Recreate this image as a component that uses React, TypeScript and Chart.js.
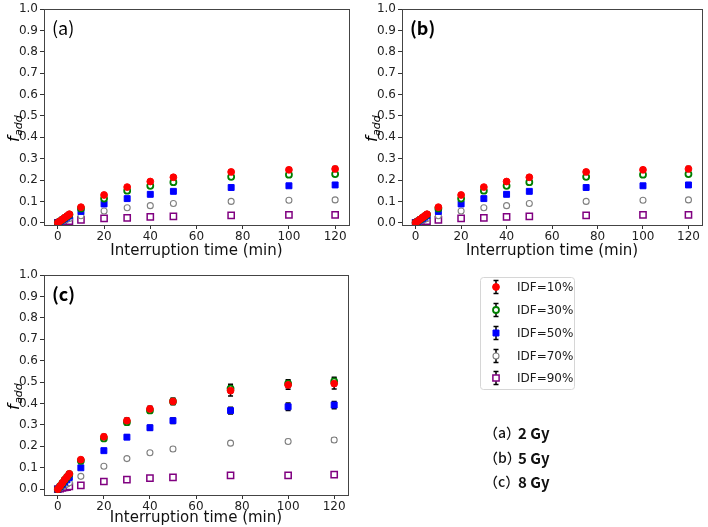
import React, { useEffect, useRef } from 'react';
import { Chart, registerables } from 'chart.js';
Chart.register(...registerables);

const times = [0, 1, 2, 3, 4, 5, 10, 20, 30, 40, 50, 75, 100, 120];
const xTicks = [0, 20, 40, 60, 80, 100, 120];
const yTicks = [0, 0.1, 0.2, 0.3, 0.4, 0.5, 0.6, 0.7, 0.8, 0.9, 1.0];
const seriesLabels = ['IDF=10%', 'IDF=30%', 'IDF=50%', 'IDF=70%', 'IDF=90%'];
const doseTags = ['（a）', '（b）', '（c）'];
const doseValues = ['2 Gy', '5 Gy', '8 Gy'];

// panel (a) 2 Gy
const a_idf10 = [0, 0.008, 0.016, 0.024, 0.032, 0.040, 0.073, 0.130, 0.167, 0.193, 0.213, 0.238, 0.248, 0.252];
const a_idf30 = [0, 0.008, 0.015, 0.023, 0.030, 0.038, 0.067, 0.113, 0.150, 0.173, 0.190, 0.215, 0.225, 0.228];
const a_idf50 = [0, 0.006, 0.013, 0.019, 0.026, 0.033, 0.053, 0.088, 0.113, 0.133, 0.147, 0.165, 0.173, 0.177];
const a_idf70 = [0, 0.004, 0.008, 0.012, 0.016, 0.020, 0.033, 0.055, 0.070, 0.080, 0.090, 0.100, 0.105, 0.107];
const a_idf90 = [0, 0.002, 0.004, 0.005, 0.007, 0.008, 0.013, 0.020, 0.023, 0.027, 0.030, 0.034, 0.037, 0.037];
const a_err10 = [0, 0.001, 0.001, 0.002, 0.002, 0.003, 0.004, 0.005, 0.006, 0.007, 0.008, 0.009, 0.010, 0.011];
const a_err30 = [0, 0.001, 0.001, 0.002, 0.002, 0.003, 0.004, 0.005, 0.006, 0.006, 0.007, 0.008, 0.009, 0.010];
const a_err50 = [0, 0.001, 0.001, 0.001, 0.002, 0.002, 0.003, 0.004, 0.005, 0.005, 0.006, 0.008, 0.008, 0.009];
const a_err70 = [0, 0.001, 0.001, 0.001, 0.001, 0.002, 0.002, 0.003, 0.004, 0.004, 0.005, 0.005, 0.006, 0.006];
const a_err90 = [0, 0.001, 0.001, 0.001, 0.001, 0.001, 0.001, 0.002, 0.002, 0.002, 0.002, 0.003, 0.003, 0.003];

// panel (b) 5 Gy
const b_idf10 = [0, 0.008, 0.016, 0.024, 0.032, 0.040, 0.073, 0.130, 0.167, 0.193, 0.213, 0.238, 0.248, 0.252];
const b_idf30 = [0, 0.008, 0.015, 0.023, 0.030, 0.038, 0.067, 0.113, 0.150, 0.173, 0.190, 0.215, 0.225, 0.228];
const b_idf50 = [0, 0.006, 0.013, 0.019, 0.026, 0.033, 0.053, 0.088, 0.113, 0.133, 0.147, 0.165, 0.173, 0.177];
const b_idf70 = [0, 0.004, 0.008, 0.012, 0.016, 0.020, 0.033, 0.055, 0.070, 0.080, 0.090, 0.100, 0.105, 0.107];
const b_idf90 = [0, 0.002, 0.004, 0.005, 0.007, 0.008, 0.013, 0.020, 0.023, 0.027, 0.030, 0.034, 0.037, 0.037];
const b_err10 = [0, 0.001, 0.001, 0.002, 0.002, 0.003, 0.004, 0.005, 0.006, 0.007, 0.008, 0.009, 0.010, 0.011];
const b_err30 = [0, 0.001, 0.001, 0.002, 0.002, 0.003, 0.004, 0.005, 0.006, 0.006, 0.007, 0.008, 0.009, 0.010];
const b_err50 = [0, 0.001, 0.001, 0.001, 0.002, 0.002, 0.003, 0.004, 0.005, 0.005, 0.006, 0.008, 0.008, 0.009];
const b_err70 = [0, 0.001, 0.001, 0.001, 0.001, 0.002, 0.002, 0.003, 0.004, 0.004, 0.005, 0.005, 0.006, 0.006];
const b_err90 = [0, 0.001, 0.001, 0.001, 0.001, 0.001, 0.001, 0.002, 0.002, 0.002, 0.002, 0.003, 0.003, 0.003];

// panel (c) 8 Gy
const c_idf10 = [0, 0.015, 0.030, 0.045, 0.058, 0.072, 0.138, 0.245, 0.320, 0.375, 0.410, 0.460, 0.487, 0.493];
const c_idf30 = [0, 0.014, 0.028, 0.043, 0.056, 0.070, 0.133, 0.237, 0.313, 0.368, 0.410, 0.470, 0.493, 0.503];
const c_idf50 = [0, 0.011, 0.022, 0.033, 0.044, 0.055, 0.100, 0.180, 0.243, 0.287, 0.320, 0.367, 0.385, 0.393];
const c_idf70 = [0, 0.006, 0.012, 0.018, 0.024, 0.030, 0.060, 0.107, 0.143, 0.170, 0.188, 0.215, 0.223, 0.230];
const c_idf90 = [0, 0.003, 0.006, 0.008, 0.010, 0.013, 0.018, 0.036, 0.045, 0.052, 0.055, 0.065, 0.065, 0.068];
const c_err10 = [0, 0.002, 0.003, 0.004, 0.005, 0.006, 0.008, 0.010, 0.012, 0.012, 0.015, 0.025, 0.020, 0.025];
const c_err30 = [0, 0.002, 0.003, 0.004, 0.005, 0.006, 0.008, 0.010, 0.012, 0.012, 0.014, 0.020, 0.018, 0.020];
const c_err50 = [0, 0.001, 0.002, 0.003, 0.004, 0.005, 0.006, 0.008, 0.010, 0.012, 0.013, 0.016, 0.018, 0.017];
const c_err70 = [0, 0.001, 0.001, 0.002, 0.002, 0.003, 0.004, 0.005, 0.006, 0.007, 0.008, 0.009, 0.009, 0.010];
const c_err90 = [0, 0.001, 0.001, 0.001, 0.001, 0.001, 0.002, 0.002, 0.003, 0.003, 0.003, 0.004, 0.004, 0.004];

type Style = { color: string; fill: string; pointStyle: string; radius: number; border: number };
const styles: Style[] = [
  { color: '#ff0000', fill: '#ff0000', pointStyle: 'circle', radius: 3.4, border: 1 },
  { color: '#008000', fill: '#ffffff', pointStyle: 'circle', radius: 3, border: 1.8 },
  { color: '#0000ff', fill: '#0000ff', pointStyle: 'rect', radius: 4.2, border: 1 },
  { color: '#808080', fill: '#ffffff', pointStyle: 'circle', radius: 3, border: 1.1 },
  { color: '#800080', fill: '#ffffff', pointStyle: 'rect', radius: 4.4, border: 1.5 },
];

const FONT = '"DejaVu Sans", sans-serif';

function drawMarker(ctx: CanvasRenderingContext2D, s: Style, x: number, y: number) {
  ctx.save();
  ctx.lineWidth = s.border;
  ctx.strokeStyle = s.color;
  ctx.fillStyle = s.fill;
  ctx.beginPath();
  if (s.pointStyle === 'circle') {
    ctx.arc(x, y, s.radius, 0, Math.PI * 2);
  } else {
    const h = s.radius * Math.SQRT1_2;
    ctx.rect(x - h, y - h, 2 * h, 2 * h);
  }
  ctx.fill();
  ctx.stroke();
  ctx.restore();
}

function drawErrBar(ctx: CanvasRenderingContext2D, x: number, y1: number, y2: number) {
  ctx.save();
  ctx.strokeStyle = '#000';
  ctx.lineWidth = 1.5;
  ctx.beginPath();
  ctx.moveTo(x, y1);
  ctx.lineTo(x, y2);
  ctx.moveTo(x - 2.5, y1);
  ctx.lineTo(x + 2.5, y1);
  ctx.moveTo(x - 2.5, y2);
  ctx.lineTo(x + 2.5, y2);
  ctx.stroke();
  ctx.restore();
}

const errorBarPlugin = {
  id: 'errorBars',
  beforeDatasetsDraw(chart: any) {
    const ctx = chart.ctx;
    const xs = chart.scales.x;
    const ys = chart.scales.y;
    chart.data.datasets.forEach((ds: any) => {
      const errs: number[] = ds.errors || [];
      ds.data.forEach((p: any, i: number) => {
        const e = errs[i] || 0;
        if (e <= 0) return;
        const x = xs.getPixelForValue(p.x);
        drawErrBar(ctx, x, ys.getPixelForValue(p.y + e), ys.getPixelForValue(p.y - e));
      });
    });
  },
};

const framePlugin = {
  id: 'frame',
  afterDatasetsDraw(chart: any, _a: any, opts: any) {
    const { ctx, chartArea } = chart;
    ctx.save();
    ctx.strokeStyle = '#444';
    ctx.lineWidth = 1;
    ctx.strokeRect(Math.round(chartArea.left) + 0.5, Math.round(chartArea.top) + 0.5,
      Math.round(chartArea.right - chartArea.left), Math.round(chartArea.bottom - chartArea.top));
    // panel label
    ctx.fillStyle = '#000';
    ctx.font = `${opts.bold ? '700' : '400'} 18px "Noto Sans CJK JP", sans-serif`;
    ctx.textBaseline = 'middle';
    ctx.textAlign = 'left';
    ctx.fillText(opts.label, chartArea.left + 8, chartArea.top + 19);
    // y axis label f_add
    ctx.translate(opts.ylabX, (chartArea.top + chartArea.bottom) / 2 + 25);
    ctx.rotate(-Math.PI / 2);
    ctx.textBaseline = 'alphabetic';
    ctx.font = `oblique 16px ${FONT}`;
    ctx.fillText('f', 0, 0);
    const fw = ctx.measureText('f').width;
    ctx.font = `oblique 11px ${FONT}`;
    ctx.fillText('add', fw + 0.5, 3);
    ctx.restore();
  },
};

const sideTextPlugin = {
  id: 'sideText',
  afterDraw(chart: any, _a: any, opts: any) {
    if (!opts.enabled) return;
    const ctx = chart.ctx;
    ctx.save();
    // legend box
    const bx = 480.5, by = 17.5, bw = 94, bh = 112, r = 3;
    ctx.strokeStyle = '#d6d6d6';
    ctx.fillStyle = '#fff';
    ctx.lineWidth = 1;
    ctx.beginPath();
    ctx.moveTo(bx + r, by);
    ctx.lineTo(bx + bw - r, by);
    ctx.quadraticCurveTo(bx + bw, by, bx + bw, by + r);
    ctx.lineTo(bx + bw, by + bh - r);
    ctx.quadraticCurveTo(bx + bw, by + bh, bx + bw - r, by + bh);
    ctx.lineTo(bx + r, by + bh);
    ctx.quadraticCurveTo(bx, by + bh, bx, by + bh - r);
    ctx.lineTo(bx, by + r);
    ctx.quadraticCurveTo(bx, by, bx + r, by);
    ctx.fill();
    ctx.stroke();
    const rowsY = [27, 50, 73, 96, 118];
    seriesLabels.forEach((lab, i) => {
      const y = rowsY[i];
      drawErrBar(ctx, 496, y - 6.5, y + 6.5);
      drawMarker(ctx, styles[i], 496, y);
      ctx.fillStyle = '#1a1a1a';
      ctx.font = `12px ${FONT}`;
      ctx.textBaseline = 'middle';
      ctx.textAlign = 'left';
      ctx.fillText(lab, 517, y + 1);
    });
    // dose labels
    const doseY = [173, 198, 222];
    ctx.fillStyle = '#111';
    ctx.textBaseline = 'middle';
    doseTags.forEach((t, i) => {
      ctx.font = `500 14px "Noto Sans CJK JP", sans-serif`;
      ctx.fillText(t, 484, doseY[i]);
      ctx.font = `600 15px "Noto Sans CJK JP", sans-serif`;
      ctx.fillText(doseValues[i], 518, doseY[i]);
    });
    ctx.restore();
  },
};

type PanelProps = {
  left: number; top: number; width: number; height: number;
  padding: { left: number; right: number; top: number; bottom: number };
  xAxisH: number; yMin: number; label: string; bold: boolean; ylabX: number;
  series: number[][]; errors: number[][]; side?: boolean;
};

function Panel(p: PanelProps) {
  const ref = useRef<HTMLCanvasElement | null>(null);
  useEffect(() => {
    if (!ref.current) return;
    const datasets = p.series.map((vals, i) => ({
      label: seriesLabels[i],
      data: times.map((t, j) => ({ x: t, y: vals[j] })),
      errors: p.errors[i],
      showLine: false,
      pointStyle: styles[i].pointStyle,
      pointRadius: styles[i].radius,
      pointBorderWidth: styles[i].border,
      pointBorderColor: styles[i].color,
      pointBackgroundColor: styles[i].fill,
      borderColor: styles[i].color,
      backgroundColor: styles[i].fill,
    }));
    const chart = new Chart(ref.current, {
      type: 'scatter',
      data: { datasets: datasets as any },
      plugins: [errorBarPlugin, framePlugin, sideTextPlugin],
      options: {
        animation: false,
        responsive: false,
        devicePixelRatio: 1,
        layout: { padding: p.padding },
        plugins: {
          legend: { display: false },
          tooltip: { enabled: false },
          frame: { label: p.label, bold: p.bold, ylabX: p.ylabX },
          sideText: { enabled: !!p.side },
        } as any,
        scales: {
          x: {
            type: 'linear',
            min: -6,
            max: 126,
            afterBuildTicks: (s: any) => { s.ticks = xTicks.map((v) => ({ value: v })); },
            afterFit: (s: any) => { s.height = p.xAxisH; },
            grid: { drawOnChartArea: false, tickLength: 4, color: '#333', drawTicks: true },
            border: { display: false },
            ticks: { color: '#222', font: { family: FONT, size: 12 }, padding: 1, maxRotation: 0 },
            title: {
              display: true,
              text: 'Interruption time (min)',
              color: '#111',
              font: { family: FONT, size: 15 },
              padding: { top: 0, bottom: 0 },
            },
          },
          y: {
            type: 'linear',
            min: p.yMin,
            max: 1.0,
            afterBuildTicks: (s: any) => { s.ticks = yTicks.map((v) => ({ value: v })); },
            afterFit: (s: any) => { s.width = 44; },
            grid: { drawOnChartArea: false, tickLength: 4, color: '#333' },
            border: { display: false },
            ticks: {
              color: '#222',
              font: { family: FONT, size: 12 },
              padding: 2,
              callback: (v: any) => Number(v).toFixed(1),
            },
          },
        },
      },
    });
    return () => chart.destroy();
  }, []);
  return (
    <canvas
      ref={ref}
      width={p.width}
      height={p.height}
      style={{ position: 'absolute', left: p.left, top: p.top, width: p.width, height: p.height }}
    />
  );
}

export default function App() {
  return (
    <div style={{ position: 'absolute', left: 0, top: 0, width: 708, height: 527, background: '#fff' }}>
      <Panel
        left={0} top={0} width={358} height={260}
        padding={{ left: 0, right: 9, top: 5, bottom: 0 }}
        xAxisH={35} yMin={-0.0106} label="(a)" bold={false} ylabX={19}
        series={[a_idf10, a_idf30, a_idf50, a_idf70, a_idf90]}
        errors={[a_err10, a_err30, a_err50, a_err70, a_err90]}
      />
      <Panel
        left={358} top={0} width={350} height={260}
        padding={{ left: 0, right: 1, top: 5, bottom: 0 }}
        xAxisH={35} yMin={-0.0106} label="(b)" bold={true} ylabX={19}
        series={[b_idf10, b_idf30, b_idf50, b_idf70, b_idf90]}
        errors={[b_err10, b_err30, b_err50, b_err70, b_err90]}
      />
      <Panel
        left={0} top={260} width={708} height={267}
        padding={{ left: 0, right: 360, top: 15, bottom: 0 }}
        xAxisH={32} yMin={-0.027} label="(c)" bold={true} ylabX={19}
        series={[c_idf10, c_idf30, c_idf50, c_idf70, c_idf90]}
        errors={[c_err10, c_err30, c_err50, c_err70, c_err90]}
        side={true}
      />
    </div>
  );
}
